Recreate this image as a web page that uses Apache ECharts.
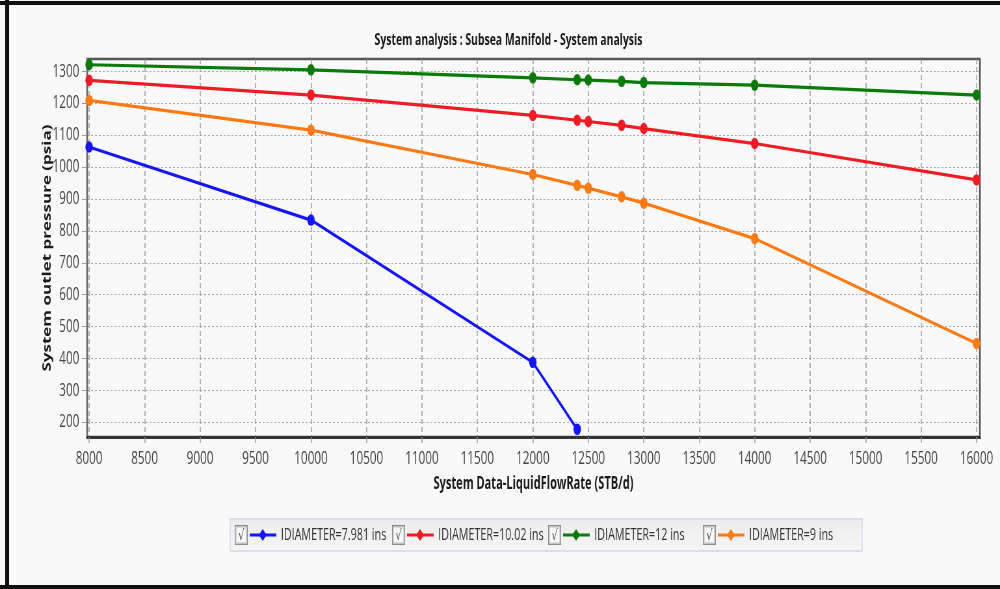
<!DOCTYPE html>
<html>
<head>
<meta charset="utf-8">
<script src="https://cdn.jsdelivr.net/npm/echarts@6/dist/echarts.min.js"></script>
<style>
  html, body { margin: 0; padding: 0; background: #f9f9f9; overflow: hidden; width: 1000px; height: 589px; }
  #wrap { width: 1000px; height: 589px; overflow: hidden; position: relative; }
  #chart { width: 1538px; height: 589px; transform: scaleX(0.6502); transform-origin: 0 0; position: absolute; left: 0; top: 0; }
</style>
</head>
<body>
<div id="wrap"><div id="chart"></div></div>
<script>
// ---- data ----
const titleText = 'System analysis : Subsea Manifold - System analysis';
const xAxisTitle = 'System Data-LiquidFlowRate (STB/d)';
const yAxisTitle = 'System outlet pressure (psia)';
const xTicks = [8000, 8500, 9000, 9500, 10000, 10500, 11000, 11500, 12000, 12500, 13000, 13500, 14000, 14500, 15000, 15500, 16000];
const yTicks = [200, 300, 400, 500, 600, 700, 800, 900, 1000, 1100, 1200, 1300];
const flowShort = [8000, 10000, 12000, 12400];
const flowFull = [8000, 10000, 12000, 12400, 12500, 12800, 13000, 14000, 16000];
const seriesNames = ['IDIAMETER=7.981 ins', 'IDIAMETER=10.02 ins', 'IDIAMETER=12 ins', 'IDIAMETER=9 ins'];
const pBlue = [1063, 834, 388, 178];
const pRed = [1272, 1226, 1162, 1147, 1143, 1131, 1121, 1074, 960];
const pGreen = [1321, 1305, 1280, 1274, 1273, 1269, 1265, 1257, 1226];
const pOrange = [1209, 1116, 977, 943, 934, 907, 887, 776, 447];

const colors = ['#1414ff', '#ee1c25', '#0b7a0b', '#ff7a12'];
const FONT = '"Open Sans", "Noto Sans", "Liberation Sans", sans-serif';
const legendLefts = [361, 603, 843, 1081];

function pairs(xs, ys) { return xs.map((x, i) => [x, ys[i]]); }

function legendIcon(color) {
  const c = document.createElement('canvas');
  c.width = 66; c.height = 20;
  const g = c.getContext('2d');
  g.fillStyle = '#f7f7f7';
  g.fillRect(0.5, 0.5, 19, 19);
  g.strokeStyle = '#8c8c8c';
  g.lineWidth = 1.5;
  g.strokeRect(0.75, 0.75, 18.5, 18.5);
  g.strokeStyle = '#dadada';
  g.lineWidth = 1;
  g.strokeRect(2.5, 2.5, 15, 15);
  g.fillStyle = '#555';
  g.font = '15px "DejaVu Sans", sans-serif';
  g.textAlign = 'center';
  g.textBaseline = 'middle';
  g.fillText('\u221A', 10, 11);
  g.strokeStyle = color;
  g.lineWidth = 3;
  g.beginPath(); g.moveTo(23, 10); g.lineTo(64, 10); g.stroke();
  g.fillStyle = color;
  g.beginPath();
  g.moveTo(43, 4); g.lineTo(49, 10); g.lineTo(43, 16); g.lineTo(37, 10); g.closePath();
  g.fill();
  return 'image://' + c.toDataURL();
}

const chart = echarts.init(document.getElementById('chart'), null, { renderer: 'canvas', width: 1538, height: 589 });

const seriesData = [pairs(flowShort, pBlue), pairs(flowFull, pRed), pairs(flowFull, pGreen), pairs(flowFull, pOrange)];

const legends = seriesNames.map((n, i) => ({
  left: legendLefts[i], top: 525,
  orient: 'horizontal',
  itemWidth: 66, itemHeight: 20,
  padding: 0,
  selectedMode: false,
  z: 5,
  textStyle: { fontFamily: FONT, fontSize: 16.5, color: '#333' },
  data: [{ name: n, icon: legendIcon(colors[i]) }]
}));

const option = {
  backgroundColor: '#f9f9f9',
  animation: false,
  title: {
    text: titleText,
    left: 777,
    textAlign: 'center',
    top: 27,
    textStyle: { fontFamily: FONT, fontSize: 16, fontWeight: 'bold', color: '#1a1a1a' }
  },
  grid: {
    left: 134, right: 31, top: 59, bottom: 152,
    show: true, borderColor: '#555', borderWidth: 2.5, backgroundColor: 'transparent',
    containLabel: false
  },
  legend: legends,
  xAxis: {
    type: 'value',
    min: 7982, max: 16030,
    name: xAxisTitle,
    nameLocation: 'middle',
    nameGap: 39,
    nameMoveOverlap: false,
    nameTextStyle: { fontFamily: FONT, fontSize: 17, fontWeight: 'bold', color: '#1a1a1a' },
    axisLine: { show: true, onZero: false, lineStyle: { color: '#333', width: 3 } },
    axisTick: { show: true, length: 6, customValues: xTicks, lineStyle: { color: '#999', width: 1.5 } },
    axisLabel: { customValues: xTicks, margin: 13, fontFamily: FONT, fontSize: 18, color: '#444',
      formatter: v => String(v) },
    splitLine: { show: true, lineStyle: { color: '#999', type: [5, 3], width: 1.5 } }
  },
  yAxis: {
    type: 'value',
    min: 154, max: 1339,
    name: yAxisTitle,
    nameLocation: 'middle',
    nameGap: 52,
    nameMoveOverlap: false,
    nameTextStyle: { fontFamily: FONT, fontSize: 17, fontWeight: 'bold', color: '#1a1a1a' },
    axisLine: { show: true, onZero: false, lineStyle: { color: '#666', width: 2 } },
    axisTick: { show: true, length: 8, customValues: yTicks, lineStyle: { color: '#999' } },
    axisLabel: { customValues: yTicks, margin: 12, fontFamily: FONT, fontSize: 18, color: '#444',
      formatter: v => String(v) },
    splitLine: { show: true, lineStyle: { color: '#aaa', type: [3, 3], width: 1 } }
  },
  series: seriesNames.map((n, i) => ({
    name: n,
    type: 'line',
    data: seriesData[i],
    symbol: 'circle',
    symbolSize: 11.5,
    showSymbol: true,
    lineStyle: { color: colors[i], width: 3.2 },
    itemStyle: { color: colors[i] },
    z: 3
  })),
  graphic: [
    { type: 'rect', z: 1, shape: { x: 354, y: 519, width: 972, height: 32 },
      style: { fill: { type: 'linear', x: 0, y: 0, x2: 0, y2: 1,
        colorStops: [{ offset: 0, color: '#ececec' }, { offset: 1, color: '#f6f6f6' }] },
        stroke: '#dcdfe8', lineWidth: 2 } },
    { type: 'rect', z: 100, shape: { x: 0, y: 1, width: 1538, height: 4 }, style: { fill: '#111' } },
    { type: 'rect', z: 100, shape: { x: 8, y: 0, width: 6, height: 589 }, style: { fill: '#111' } },
    { type: 'rect', z: 100, shape: { x: 0, y: 585, width: 1538, height: 4 }, style: { fill: '#111' } }
  ]
};

chart.setOption(option);
</script>
</body>
</html>
